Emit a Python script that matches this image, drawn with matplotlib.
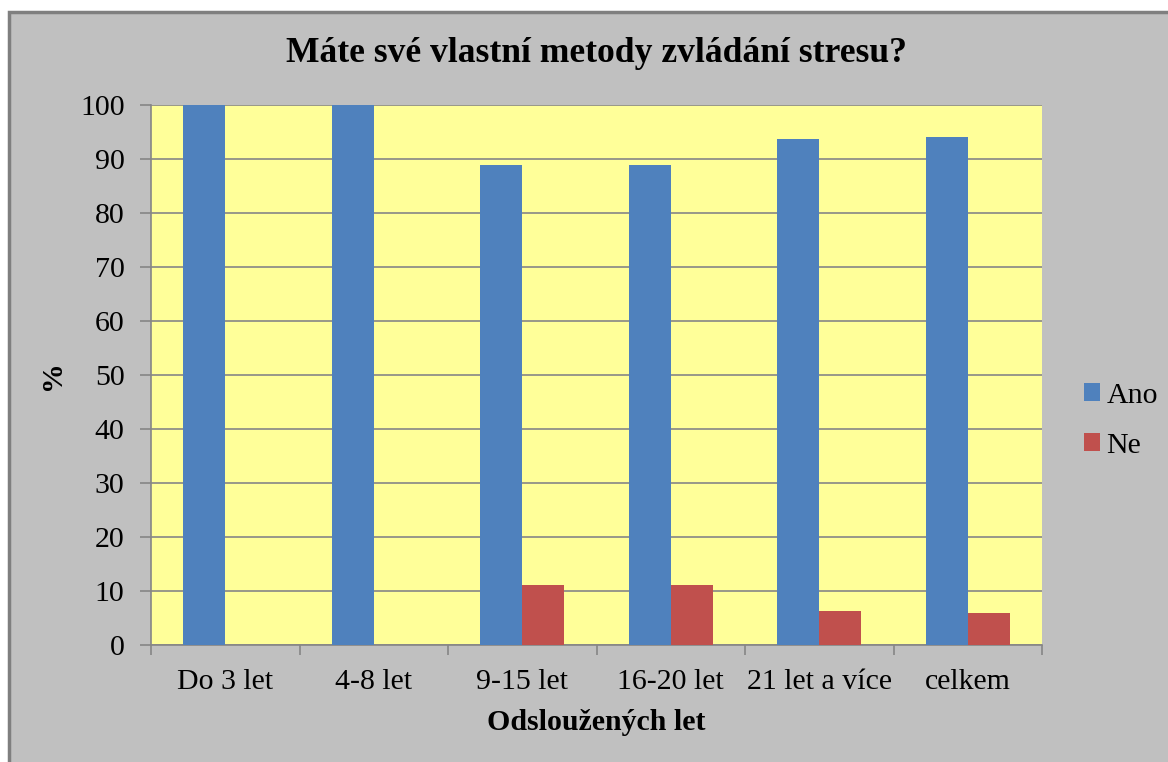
import numpy as np
import matplotlib
matplotlib.use('Agg')
import matplotlib.pyplot as plt
from matplotlib.patches import Rectangle

#  data  #
categories = ['Do 3 let', '4-8 let', '9-15 let', '16-20 let', '21 let a více', 'celkem']
ano = [100, 100, 88.9, 88.9, 93.7, 94.1]
ne = [0, 0, 11.1, 11.1, 6.3, 5.9]
series_labels = ['Ano', 'Ne']
yticks = [0, 10, 20, 30, 40, 50, 60, 70, 80, 90, 100]

plt.rcParams['font.family'] = ['Liberation Serif', 'DejaVu Serif']

W, H = 1168, 762
fig = plt.figure(figsize=(W / 100, H / 100), dpi=100)
fig.patch.set_facecolor('white')
# gray chart area with border, cut off on right/bottom
fig.patches.append(Rectangle((9 / W, -0.05), 1.1, 1 - 12 / H + 0.05,
                             transform=fig.transFigure, facecolor='#c0c0c0',
                             edgecolor='#7f7f7f', linewidth=2.5, zorder=-10))

ax = fig.add_axes([151 / W, 1 - 645 / H, (1042 - 151) / W, (645 - 105) / H])
ax.set_facecolor('#ffff99')

x = np.arange(len(categories))
bw = 0.283
ax.bar(x - bw / 2, ano, bw, color='#4f81bd', label=series_labels[0], zorder=3)
ax.bar(x + bw / 2, ne, bw, color='#c0504d', label=series_labels[1], zorder=3)

ax.set_xlim(-0.5, len(categories) - 0.5)
ax.set_ylim(0, 100)
ax.set_yticks(yticks)
ax.yaxis.grid(True, color='#868686', linewidth=1.2, zorder=1)
ax.set_axisbelow(True)

fs = 21.5
ax.set_xticks(x)
ax.set_xticklabels(categories, fontsize=fs)
ax.set_xticks(np.arange(-0.5, len(categories)), minor=True)
ax.tick_params(axis='x', which='major', length=0, pad=17)
ax.tick_params(axis='x', which='minor', length=7, color='#868686', width=1.2, direction='out')
ax.tick_params(axis='y', length=8, color='#868686', width=1.2, labelsize=fs, pad=11)

for s in ['top', 'right']:
    ax.spines[s].set_visible(False)
for s in ['left', 'bottom']:
    ax.spines[s].set_color('#868686')
    ax.spines[s].set_linewidth(1.2)

ax.set_xlabel('Odsloužených let', fontsize=fs, fontweight='bold', labelpad=10)
ax.set_ylabel('%', fontsize=fs, fontweight='bold', labelpad=10)
fig.text(597 / W, 1 - 54 / H, 'Máte své vlastní metody zvládání stresu?',
         ha='center', va='center', fontsize=25.6, fontweight='bold')

leg = fig.legend(loc='center left', bbox_to_anchor=(1069 / W, 1 - 421 / H), frameon=False,
                 fontsize=fs, handlelength=0.55, handleheight=0.55, handletextpad=0.2,
                 labelspacing=0.8, borderpad=0)

fig.savefig('out.png', dpi=100, facecolor=fig.get_facecolor())
